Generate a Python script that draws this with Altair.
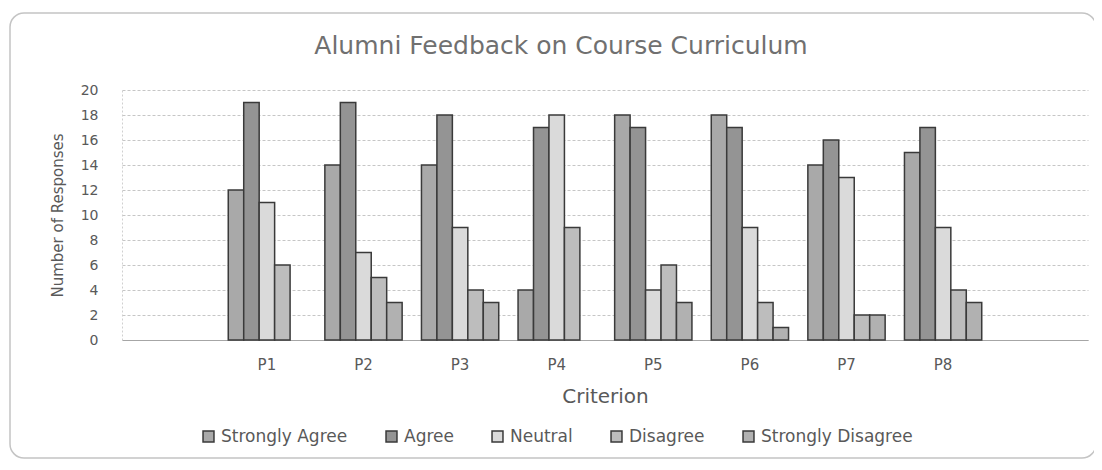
import altair as alt
import pandas as pd

criteria = ["P1", "P2", "P3", "P4", "P5", "P6", "P7", "P8"]
series = ["Strongly Agree", "Agree", "Neutral", "Disagree", "Strongly Disagree"]
strongly_agree = [12, 14, 14, 4, 18, 18, 14, 15]
agree = [19, 19, 18, 17, 17, 17, 16, 17]
neutral = [11, 7, 9, 18, 4, 9, 13, 9]
disagree = [6, 5, 4, 9, 6, 3, 2, 4]
strongly_disagree = [0, 3, 3, 0, 3, 1, 2, 3]
y_ticks = [0, 2, 4, 6, 8, 10, 12, 14, 16, 18, 20]
colors = ["#a9a9a9", "#949494", "#dadada", "#bdbdbd", "#b1b1b1"]

values_by_series = [strongly_agree, agree, neutral, disagree, strongly_disagree]
rows = []
for s, vals in zip(series, values_by_series):
    for c, v in zip(criteria, vals):
        rows.append({"Criterion": c, "Response": s, "Count": v})
df = pd.DataFrame(rows)

# Excel's category axis leaves one empty slot on each side
x_domain = ["_l"] + criteria + ["_r"]

FONT = "DejaVu Sans"
GREY_TEXT = "#595959"

bars = alt.Chart(df).transform_filter("datum.Count > 0").mark_bar(
    stroke="#3a3a3a", strokeWidth=1.5
).encode(
    x=alt.X("Criterion:N", scale=alt.Scale(domain=x_domain, paddingInner=0.2, paddingOuter=0.1),
            sort=x_domain,
            axis=alt.Axis(title="Criterion", labelExpr="indexof(datum.label, '_') >= 0 ? '' : datum.label",
                          labelAngle=0, ticks=False, tickSize=0, labelPadding=17,
                          labelFont=FONT, labelFontSize=15, labelColor=GREY_TEXT,
                          titleFont=FONT, titleFontSize=20, titleFontWeight="normal", titleColor=GREY_TEXT,
                          titleY=62, titleBaseline="alphabetic",
                          domainColor="#a6a6a6", domainWidth=1.2, grid=False)),
    xOffset=alt.XOffset("Response:N", sort=series, scale=alt.Scale(domain=series, paddingInner=0, paddingOuter=0)),
    y=alt.Y("Count:Q", scale=alt.Scale(domain=[0, 20], nice=False),
            axis=alt.Axis(title="Number of Responses", values=y_ticks, ticks=False, tickSize=0, labelPadding=24,
                          labelFont=FONT, labelFontSize=14, labelColor=GREY_TEXT,
                          titleFont=FONT, titleFontSize=15, titleFontWeight="normal", titleColor=GREY_TEXT,
                          titleAngle=270, titleX=-65, titleY=125, titleAlign="center", titleBaseline="middle",
                          domainColor="#d0d0d0", domainDash=[2, 2],
                          grid=True, gridColor="#c6c6c6", gridDash=[3, 2], gridWidth=1)),
    color=alt.Color("Response:N", sort=series, scale=alt.Scale(domain=series, range=colors),
                    legend=alt.Legend(title=None, orient="none", direction="horizontal", legendX=78, legendY=338,
                                      columns=5, columnPadding=35, symbolType="square", symbolSize=120,
                                      symbolStrokeColor="#3a3a3a", symbolStrokeWidth=1.5, labelOffset=4,
                                      labelFont=FONT, labelFontSize=17, labelColor=GREY_TEXT)),
)

frame = alt.Chart(pd.DataFrame({"k": [0]})).mark_rect(
    fill="transparent", stroke="#c4c4c4", strokeWidth=1.5, cornerRadius=14
).encode(x=alt.value(-112), x2=alt.value(974), y=alt.value(-77), y2=alt.value(368))

chart = alt.layer(frame, bars).properties(
    width=966, height=250,
    padding={"left": 114, "top": 82, "right": 6, "bottom": 120},
    autosize=alt.AutoSizeParams(type="none"),
    title=alt.TitleParams(text="Alumni Feedback on Course Curriculum", anchor="middle", frame="group",
                          dx=-44, dy=102, offset=35, baseline="alphabetic", font=FONT, fontSize=25,
                          fontWeight="normal", color="#707070"),
    background="white",
).configure_view(stroke=None)

chart.save("out.html", embed_options={"renderer": "svg", "actions": False})
